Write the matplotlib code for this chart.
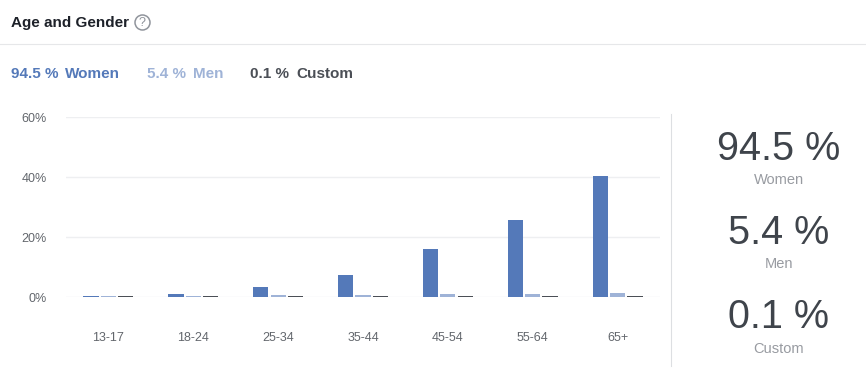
import matplotlib
matplotlib.use('Agg')
import numpy as np
import matplotlib.pyplot as plt
from matplotlib.patches import Circle

plt.rcParams['font.family'] = ['Liberation Sans', 'DejaVu Sans']

ages = ['13-17', '18-24', '25-34', '35-44', '45-54', '55-64', '65+']
women = [0.3, 0.9, 3.2, 7.5, 16.0, 25.8, 40.2]
men = [0.3, 0.3, 0.6, 0.6, 1.0, 1.1, 1.4]
custom = [0.2, 0.2, 0.2, 0.2, 0.2, 0.2, 0.2]
yticks = [0, 20, 40, 60]
ylabels = ['0%', '20%', '40%', '60%']

BLUE = '#5479b9'
LIGHT = '#9fb3d7'
DARK = '#4b4f56'
W, H = 866, 377

fig = plt.figure(figsize=(W/100, H/100), dpi=100, facecolor='white')

# full-figure overlay in pixel coords for the header and side panel
bg = fig.add_axes([0, 0, 1, 1])
bg.set_xlim(0, W)
bg.set_ylim(H, 0)
bg.axis('off')

ax = fig.add_axes([66/W, 1-297/H, (660-66)/W, 180/H])
x = np.arange(len(ages))
bw = 0.18
off = 0.204
ax.bar(x-off, women, bw, color=BLUE, clip_on=False, zorder=3)
ax.bar(x, men, bw, color=LIGHT, clip_on=False, zorder=3)
ax.bar(x+off, custom, bw, color=DARK, clip_on=False, zorder=3)
ax.set_xlim(-0.5, 6.5)
ax.set_ylim(0, 60)
ax.set_xticks(x)
ax.set_xticklabels(ages)
ax.set_yticks(yticks)
ax.set_yticklabels(ylabels)
ax.tick_params(axis='x', length=0, pad=25, labelsize=9, labelcolor='#62666c')
ax.tick_params(axis='y', length=0, pad=14, labelsize=9, labelcolor='#62666c')
ax.grid(axis='y', color='#eeeff1', linewidth=1)
ax.set_axisbelow(True)
for s in ax.spines.values():
    s.set_visible(False)

# header
bg.text(11, 22.5, 'Age and Gender', fontsize=11, fontweight='bold', color='#1d2129', va='center')
bg.add_patch(Circle((142.5, 22.5), 7.5, fill=False, edgecolor='#90949c', linewidth=1.1))
bg.text(142.5, 22.5, '?', fontsize=9, color='#90949c', ha='center', va='center')
bg.plot([0, W], [44, 44], color='#e6e7e9', linewidth=0.8)

# legend row
bg.text(11, 73.5, '94.5 %', fontsize=11, fontweight='bold', color=BLUE, va='center')
bg.text(65, 73.5, 'Women', fontsize=11, fontweight='bold', color=BLUE, va='center')
bg.text(147, 73.5, '5.4 %', fontsize=11, fontweight='bold', color=LIGHT, va='center')
bg.text(193, 73.5, 'Men', fontsize=11, fontweight='bold', color=LIGHT, va='center')
bg.text(250.5, 73.5, '0.1 %', fontsize=11, fontweight='bold', color=DARK, va='center')
bg.text(296, 73.5, 'Custom', fontsize=11, fontweight='bold', color=DARK, va='center')

# side panel
bg.plot([671, 671], [114, 366], color='#dddfe2', linewidth=0.8)
for yb, yl, big, small in [(148.5, 180, '94.5 %', 'Women'), (232.5, 264, '5.4 %', 'Men'), (317.5, 349, '0.1 %', 'Custom')]:
    bg.text(778.5, yb, big, fontsize=28.5, color='#3f444b', ha='center', va='center')
    bg.text(778.5, yl, small, fontsize=10.5, color='#989ba1', ha='center', va='center')

fig.savefig('out.png', dpi=100)
